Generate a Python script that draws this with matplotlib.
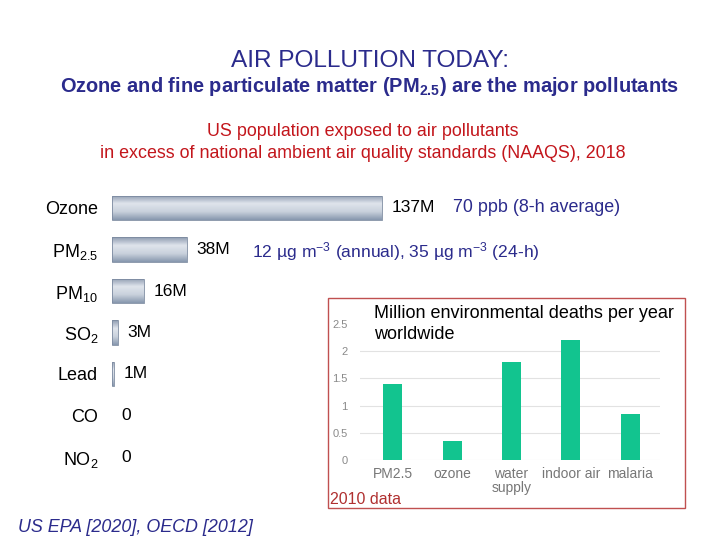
import numpy as np
import matplotlib
matplotlib.use("Agg")
import matplotlib.pyplot as plt
from matplotlib.colors import LinearSegmentedColormap
from matplotlib.patches import Rectangle

plt.rcParams['font.family'] = ['Liberation Sans', 'DejaVu Sans']
plt.rcParams['mathtext.fontset'] = 'custom'
plt.rcParams['mathtext.rm'] = 'Liberation Sans'
plt.rcParams['mathtext.it'] = 'Liberation Sans:italic'
plt.rcParams['mathtext.bf'] = 'Liberation Sans:bold'

# US population above NAAQS, 2018 (millions)
pollutants = ["Ozone", r"PM$_{\mathrm{2.5}}$", r"PM$_{\mathrm{10}}$",
              r"SO$_{\mathrm{2}}$", "Lead", "CO", r"NO$_{\mathrm{2}}$"]
exposed = [137, 38, 16, 3, 1, 0, 0]
exposed_labels = ["137M", "38M", "16M", "3M", "1M", "0", "0"]

# worldwide environmental deaths, 2010 (millions per year)
causes = ["PM2.5", "ozone", "water\nsupply", "indoor air", "malaria"]
deaths = [1.4, 0.35, 1.8, 2.2, 0.85]
death_ticks = [0, 0.5, 1, 1.5, 2, 2.5]

BLUE = "#2b2b8c"
RED = "#c3161c"
W, H = 720, 540

fig = plt.figure(figsize=(7.2, 5.4), dpi=100)


def px_box(x0, y0, x1, y1):
    # pixel box (top-left origin) -> figure fraction rect
    return [x0 / W, 1 - y1 / H, (x1 - x0) / W, (y1 - y0) / H]


# titles
fig.text(370 / W, 1 - 61 / H, "AIR POLLUTION TODAY:", color=BLUE,
         fontsize=17.6, ha="center", va="center")
fig.text(370 / W, 1 - 87 / H,
         r"Ozone and fine particulate matter (PM$_{\mathbf{2.5}}$) are the major pollutants",
         color=BLUE, fontsize=14.4, fontweight="bold", ha="center", va="center")
fig.text(363 / W, 1 - 131 / H, "US population exposed to air pollutants",
         color=RED, fontsize=12.9, ha="center", va="center")
fig.text(363 / W, 1 - 153 / H,
         "in excess of national ambient air quality standards (NAAQS), 2018",
         color=RED, fontsize=12.9, ha="center", va="center")
fig.text(18 / W, 1 - 527 / H, "US EPA [2020], OECD [2012]", color=BLUE,
         fontsize=12.9, style="italic", ha="left", va="center")

# left horizontal bar chart
scale = 1.97  # px per million
ax = fig.add_axes(px_box(112, 187.25, 700, 477.75))
ax.patch.set_alpha(0)
for s in ax.spines.values():
    s.set_visible(False)
y = np.arange(len(pollutants))
bars = ax.barh(y, exposed, height=0.58, color="none", edgecolor="#7c8aa0",
               linewidth=0.6, zorder=3)
grad_cmap = LinearSegmentedColormap.from_list(
    "cyl", ["#8e9bb0", "#dfe4ec", "#c9d1dc", "#8797ae"])
grad = np.linspace(0, 1, 64).reshape(-1, 1)
for b in bars:
    x0, yc, w, h = b.get_x(), b.get_y(), b.get_width(), b.get_height()
    if w <= 0:
        b.set_visible(False)
        continue
    im = ax.imshow(grad, cmap=grad_cmap, aspect="auto",
                   extent=(x0, x0 + max(w, 0.6), yc + h, yc), zorder=2)
    im.set_clip_path(Rectangle((x0, yc), max(w, 0.6), h,
                               transform=ax.transData))
ax.set_xlim(0, (700 - 112) / scale)
ax.set_ylim(len(pollutants) - 0.5, -0.5)
ax.set_xticks([])
ax.set_yticks(y)
ax.set_yticklabels(pollutants, fontsize=13)
ax.tick_params(axis="y", length=0, pad=10)
for yi, (v, lab) in enumerate(zip(exposed, exposed_labels)):
    ax.text(v + 5, yi, lab, fontsize=12.5, va="center", ha="left")
ax.text(173, 0, "70 ppb (8-h average)", color=BLUE, fontsize=12.9,
        va="center", ha="left")
ax.text(71, 1.05,
        r"12 µg m$^{\mathrm{-3}}$ (annual), 35 µg m$^{\mathrm{-3}}$ (24-h)",
        color=BLUE, fontsize=12.6, va="center", ha="left")

# inset: deaths per year worldwide
fig.patches.append(Rectangle((328 / W, 1 - 508 / H), 357 / W, 210 / H,
                             transform=fig.transFigure, facecolor="white",
                             edgecolor="#c05050", linewidth=1.0, zorder=1))
ax2 = fig.add_axes(px_box(360, 324, 660, 460))
ax2.set_zorder(5)
ax2.patch.set_alpha(0)
x = np.arange(len(causes))
ax2.bar(x, deaths, width=0.32, color="#12c48f", zorder=3)
ax2.set_xlim(-0.55, len(causes) - 0.5)
ax2.set_ylim(0, 2.5)
ax2.set_yticks(death_ticks)
ax2.set_yticklabels(["0", "0.5", "1", "1.5", "2", "2.5"], fontsize=8,
                    color="#8a8a8a")
ax2.set_xticks(x)
ax2.set_xticklabels(causes, fontsize=10, color="#777777", linespacing=1.0)
ax2.tick_params(length=0)
ax2.tick_params(axis="y", pad=9)
ax2.tick_params(axis="x", pad=5)
for s in ax2.spines.values():
    s.set_visible(False)
ax2.yaxis.grid(True, color="#e2e2e2", linewidth=0.8, zorder=0)
ax2.get_ygridlines()[-1].set_visible(False)
ax2.set_axisbelow(True)
fig.text(374 / W, 1 - 324 / H,
         "Million environmental deaths per year\nworldwide",
         fontsize=13, color="black", ha="left", va="center",
         linespacing=1.3, zorder=6)
fig.text(330 / W, 1 - 500 / H, "2010 data", color="#b03030", fontsize=11.5,
         ha="left", va="center", zorder=6)

fig.savefig("out.png", dpi=100)
